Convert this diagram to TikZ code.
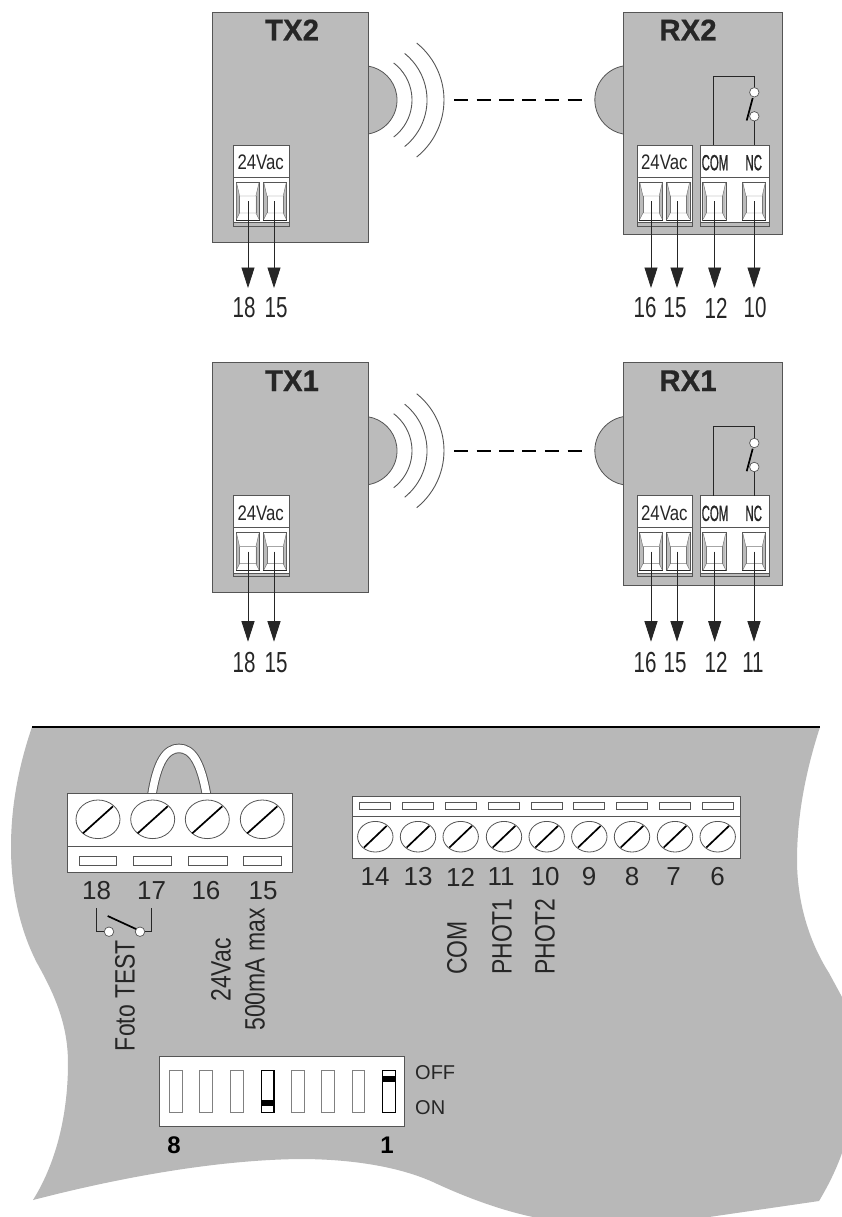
\documentclass[tikz,border=0pt]{standalone}
\usepackage{fontspec}
\usetikzlibrary{arrows.meta}
\setmainfont{Liberation Sans}
\newfontfamily\fnarrow[FakeStretch=0.71]{Liberation Sans}
\newfontfamily\fvert[FakeStretch=0.82]{Liberation Sans}
\newfontfamily\fterm[FakeStretch=0.8]{Liberation Sans}
\newfontfamily\fcond[FakeStretch=0.52,FakeBold=0.8]{Liberation Sans}
\newfontfamily\fbold[FakeStretch=0.98,FakeBold=0.6]{Liberation Sans Bold}
\definecolor{unitgrey}{HTML}{BBBBBB}
\definecolor{boardgrey}{HTML}{B8B8B8}
\definecolor{ink}{HTML}{262626}
\definecolor{edge}{HTML}{555555}
\tikzset{
  unitbox/.style={draw=edge,line width=.8pt,fill=unitgrey},
  bump/.style={draw=edge,line width=.8pt,fill=unitgrey},
  wave/.style={draw=edge,line width=.9pt},
  signal/.style={draw=black,line width=2.4pt,dash pattern=on 14.3pt off 8.4pt},
  termbox/.style={draw=edge,line width=.8pt,fill=white},
  wire/.style={draw=ink,line width=.8pt,-{Triangle[length=20.5pt,width=13pt]}},
  title/.style={inner sep=0pt,text=ink,font=\fbold\fontsize{30}{30}\selectfont},
  numlab/.style={inner sep=0pt,text=ink,font=\fnarrow\fontsize{29}{29}\selectfont},
  boardnum/.style={inner sep=0pt,text=ink,font=\fontsize{26}{26}\selectfont},
  termlab/.style={inner sep=0pt,text=ink,font=\fterm\fontsize{21}{21}\selectfont},
  condlab/.style={inner sep=0pt,text=ink,font=\fcond\fontsize{22}{22}\selectfont},
  vertlab/.style={inner sep=0pt,text=ink,rotate=90,font=\fvert\fontsize{28}{28}\selectfont},
  diplab/.style={inner sep=0pt,text=ink,font=\fontsize{20}{20}\selectfont,anchor=west},
  dipnum/.style={inner sep=0pt,text=black,font=\bfseries\fontsize{24}{24}\selectfont},
  contact/.style={circle,draw=edge,fill=white,line width=.7pt,inner sep=0pt,minimum size=9.5pt},
  blade/.style={draw=black,line width=1.7pt},
  screwhead/.style={draw=edge,line width=.8pt,fill=white},
  slitline/.style={draw=black,line width=1.7pt},
  window/.style={draw=edge,line width=.9pt,fill=white},
  dipoff/.style={draw=gray,line width=1pt,fill=white},
  dipon/.style={draw=black,line width=1.2pt,fill=white},
}
% one screw-clamp opening, left edge #1, in the device's coordinates
\newcommand{\clampslot}[1]{%
  \begin{scope}[shift={(#1,182)}]
    \draw[draw=edge,line width=.7pt,fill=white] (0,0) rectangle (23.5,38);
    \fill[unitgrey] (.6,1) -- (3.6,14) -- (3.6,31) -- (.6,37) -- cycle;
    \fill[unitgrey] (22.9,1) -- (19.9,14) -- (19.9,31) -- (22.9,37) -- cycle;
    \draw[draw=edge!80,line width=.45pt] (.6,1) -- (3.6,14) -- (19.9,14) -- (22.9,1);
    \draw[draw=edge!80,line width=.45pt] (.6,37) -- (3.6,31) -- (19.9,31) -- (22.9,37);
    \draw[draw=edge!80,line width=.45pt] (3.6,14) -- (3.6,31) (19.9,14) -- (19.9,31);
    \draw[draw=ink,line width=.9pt] (0,38) -- (23.5,38);
  \end{scope}}
% terminal casing: #1 left, #2 right
\newcommand{\casing}[2]{%
  \draw[termbox] (#1,145) rectangle (#2,226);
  \draw[draw=edge,line width=.8pt] (#1,177) -- (#2,177);
  \fill[unitgrey] (#1,222.6) rectangle (#2,226);
  \draw[draw=edge,line width=.8pt] (#1,222.6) -- (#2,222.6);
  \draw[draw=edge,line width=.8pt] (#1,145) rectangle (#2,226);}
% arrow with label: #1 name, #2 x, #3 tip y, #4 label x, #5 label y, #6 text
\newcommand{\leadout}[6]{%
  \coordinate (#1s) at (#2,201);
  \coordinate (#1e) at (#2,#3);
  \draw[wire] (#1s) -- (#1e);
  \node[numlab] (#1l) at (#4,#5) {#6};}
% transmitter: #1 prefix, #2 title, #3 y offset, #4 bottom, #5 tip y, #6 label y
\newcommand{\txunit}[6]{%
  \begin{scope}[yshift=-#3pt]
    \draw[bump] (368,134) arc[start angle=-81,end angle=81,radius=34.4pt];
    \draw[wave] (393.7,137) arc[start angle=-52.6,end angle=52.6,radius=46.6pt];
    \draw[wave] (404.7,146.5) arc[start angle=-51.3,end angle=51.3,radius=59.6pt];
    \draw[wave] (416.7,157) arc[start angle=-51.2,end angle=51.2,radius=73.1pt];
    \draw[unitbox] (212,12) rectangle (368,#4);
    \node[title] (#1title) at (292,30) {#2};
    \casing{233}{289}
    \node[termlab] (#1v) at (260.7,162.7) {24Vac};
    \clampslot{236}\clampslot{263.3}
    \leadout{#1a}{248}{#5}{244}{#6}{18}
    \leadout{#1b}{274}{#5}{276}{#6}{15}
    \coordinate (#1ds) at (454,100);
    \coordinate (#1de) at (582,100);
    \draw[signal] (#1ds) -- (#1de);
  \end{scope}}
% receiver: #1 prefix, #2 title, #3 y offset, #4 bottom, #5 tip y, #6 label y, #7 last number, #8 last label x
\newcommand{\rxunit}[8]{%
  \begin{scope}[yshift=-#3pt]
    \draw[bump] (623,66) arc[start angle=100.7,end angle=259.3,radius=34.6pt];
    \draw[unitbox] (623,12) rectangle (782,#4);
    \node[title] (#1title) at (688,30) {#2};
    \casing{637}{692.7}
    \casing{700}{769}
    \node[termlab] (#1v) at (664.3,162.7) {24Vac};
    \node[condlab] (#1com) at (715,162.7) {COM};
    \node[condlab] (#1nc) at (753.7,162.7) {NC};
    \clampslot{639.3}\clampslot{666.6}\clampslot{702.7}\clampslot{742.3}
    \leadout{#1a}{651}{#5}{645}{#6}{16}
    \leadout{#1b}{677}{#5}{675}{#6}{15}
    \leadout{#1c}{714.7}{#5}{716}{#6}{12}
    \leadout{#1d}{754}{#5}{#8}{#6}{#7}
    \coordinate (#1r0) at (713.7,145);
    \coordinate (#1r1) at (713.7,76);
    \coordinate (#1r2) at (754.3,76);
    \coordinate (#1r3) at (754.3,145);
    \node[contact] (#1k1) at (754.3,92.3) {};
    \node[contact] (#1k2) at (754.3,116.3) {};
    \draw[draw=ink,line width=.8pt] (#1r0) -- (#1r1) -- (#1r2) -- (#1k1.north);
    \draw[draw=ink,line width=.8pt] (#1k2.south) -- (#1r3);
    \coordinate (#1b0) at (746.7,120.5);
    \coordinate (#1b1) at (752.7,98);
    \draw[blade] (#1b0) -- (#1b1);
  \end{scope}}
\begin{document}
\begin{tikzpicture}[x=1pt,y=-1pt]
\useasboundingbox (0,0) rectangle (842,1217);
\fill[white] (0,0) rectangle (842,1217);

\txunit{txb}{TX2}{0}{242}{288}{308}
\rxunit{rxb}{RX2}{0}{234}{288}{308}{10}{755}
\txunit{txa}{TX1}{350.7}{241.6}{291}{312}
\rxunit{rxa}{RX1}{350.7}{234.3}{291}{312}{11}{753}

% board
\fill[boardgrey] (32,727) -- (820,727)
  .. controls (806,770) and (797,815) .. (797,860)
  .. controls (797,900) and (808,940) .. (829,973)
  -- (842,997) -- (842,1153)
  .. controls (836,1170) and (828,1186) .. (819,1201)
  -- (709,1217) -- (533,1217)
  .. controls (500,1210) and (465,1197) .. (433,1182)
  .. controls (395,1165) and (345,1159) .. (300,1159)
  .. controls (210,1160) and (110,1180) .. (33,1200)
  .. controls (58,1160) and (68,1110) .. (68,1063)
  .. controls (68,1025) and (55,995) .. (37,963)
  .. controls (20,930) and (11,890) .. (11,847)
  .. controls (11,805) and (19,765) .. (32,727)
  -- cycle;
\coordinate (edgeL) at (32,727);
\coordinate (edgeR) at (820,727);
\draw[draw=black,line width=2pt] (edgeL) -- (edgeR);

% jumper
\coordinate (jumpL) at (151.7,796);
\coordinate (jumpR) at (206.7,796);
\draw[draw=edge,line width=9.5pt] (jumpL) .. controls (157,762) and (166,748.4) .. (179,748.4) .. controls (192,748.4) and (201,762) .. (jumpR);
\draw[draw=white,line width=7.6pt] (jumpL) .. controls (157,762) and (166,748.4) .. (179,748.4) .. controls (192,748.4) and (201,762) .. (jumpR);

% left terminal block
\draw[termbox] (67.7,793) rectangle (292,872);
\draw[draw=edge,line width=.8pt] (67.7,846.7) -- (292,846.7);
\foreach \sx/\wa/\wb/\nm/\lx in {98/79/116.7/18/96.7, 152.7/133.3/171.7/17/151.7, 207.3/188.3/227.3/16/206, 262.3/243.3/281.7/15/263}{
  \draw[screwhead] (\sx,819.3) ellipse[x radius=22pt,y radius=19.3pt];
  \draw[slitline] ({\sx-15},833.3) -- ({\sx+15},806.3);
  \draw[window] (\wa,856) rectangle (\wb,865.7);
  \node[boardnum] (left\nm) at (\lx,891) {\nm};
}
% Foto TEST contact
\coordinate (tl) at (96,908);
\coordinate (tlc) at (96,931.7);
\coordinate (tr) at (151.3,908);
\coordinate (trc) at (151.3,931.7);
\node[contact] (tk1) at (109,931.7) {};
\node[contact] (tk2) at (140,931.7) {};
\draw[draw=ink,line width=.8pt] (tl) -- (tlc) -- (tk1.west);
\draw[draw=ink,line width=.8pt] (tr) -- (trc) -- (tk2.east);
\coordinate (tb0) at (107.7,916);
\coordinate (tb1) at (136,929);
\draw[blade] (tb0) -- (tb1);
\node[vertlab] (foto) at (125,995.5) {Foto TEST};
\node[vertlab] (vac) at (221,970) {24Vac};
\node[vertlab] (ma) at (255,969.5) {500mA max};

% right terminal block
\draw[termbox] (352.7,796.7) rectangle (740,858.3);
\draw[draw=edge,line width=.8pt] (352.7,816.7) -- (740,816.7);
\foreach \sx/\lx/\nm in {375.3/375/14, 418/418/13, 460.7/460.7/12, 504/501/11, 546.7/545/10, 589.3/589/9, 632/632/8, 675/673.7/7, 717.7/717.7/6}{
  \draw[window] ({\sx-15.5},802.3) rectangle ({\sx+15.5},809);
  \draw[screwhead] (\sx,836.7) ellipse[x radius=17.7pt,y radius=15.3pt];
  \draw[slitline] ({\sx-11.3},847.5) -- ({\sx+11.3},825.9);
  \node[boardnum] (right\nm) at (\lx,877) {\nm};
}
\node[vertlab,anchor=west] (com) at (457,975) {COM};
\node[vertlab,anchor=west] (ph1) at (502,975) {PHOT1};
\node[vertlab,anchor=west] (ph2) at (545,975) {PHOT2};

% DIP switch
\draw[draw=edge,line width=.9pt,fill=white] (159,1056.7) rectangle (404.3,1126);
\foreach \dx in {175.7,206,236.7,297.7,328,358.3}{
  \draw[dipoff] ({\dx-6.3},1070.7) rectangle ({\dx+6.3},1112.3);
}
\draw[dipon] (261.4,1070.7) rectangle (274,1112.3);
\fill[black] (261.4,1100) rectangle (274,1105.7);
\draw[dipon] (382.7,1070.7) rectangle (395.3,1112.3);
\fill[black] (382.7,1075.7) rectangle (395.3,1081.7);
\node[diplab] (off) at (415,1073) {OFF};
\node[diplab] (on) at (415,1108) {ON};
\node[dipnum] (d8) at (174,1145) {8};
\node[dipnum] (d1) at (387,1145) {1};
\end{tikzpicture}
\end{document}
